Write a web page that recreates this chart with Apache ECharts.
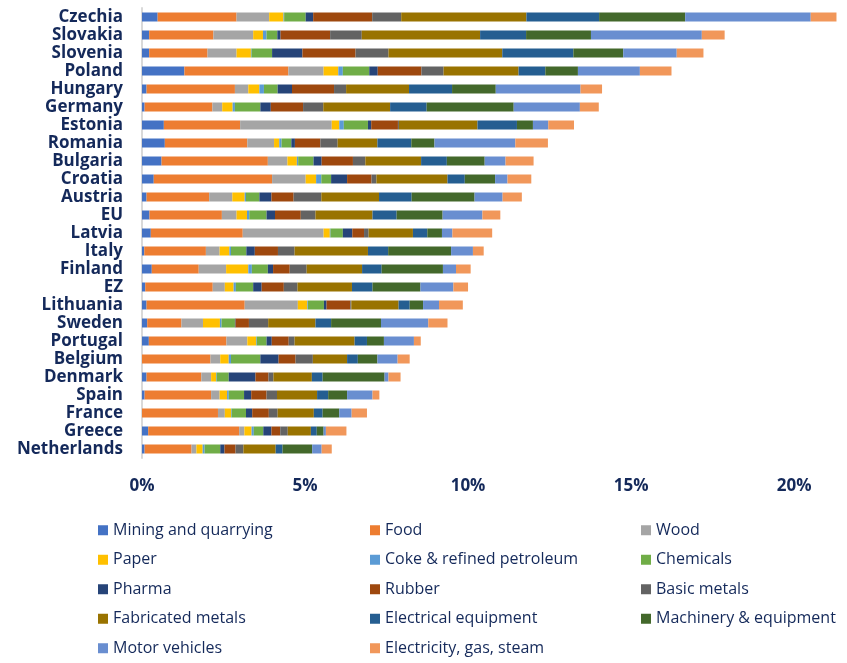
<!DOCTYPE html>
<html><head><meta charset="utf-8">
<script src="https://cdn.jsdelivr.net/npm/echarts@6/dist/echarts.min.js"></script>
<style>html,body{margin:0;padding:0;background:#fff}#c{width:847px;height:663px}</style>
</head><body><div id="c"></div>
<script>
const countries = ["Czechia","Slovakia","Slovenia","Poland","Hungary","Germany","Estonia","Romania","Bulgaria","Croatia","Austria","EU","Latvia","Italy","Finland","EZ","Lithuania","Sweden","Portugal","Belgium","Denmark","Spain","France","Greece","Netherlands"];
const xTicks = [0,5,10,15,20];
const mining = [0.48,0.22,0.22,1.30,0.14,0.08,0.67,0.70,0.60,0.36,0.14,0.23,0.27,0.07,0.30,0.10,0.14,0.16,0.21,0,0.14,0.08,0,0.19,0.08];
const food = [2.42,1.97,1.79,3.19,2.71,2.08,2.34,2.53,3.26,3.63,1.92,2.22,2.82,1.89,1.44,2.07,3.01,1.05,2.38,2.10,1.68,2.04,2.33,2.79,1.44];
const wood = [1.00,1.22,0.89,1.08,0.41,0.30,2.81,0.82,0.60,1.03,0.71,0.45,2.48,0.42,0.84,0.37,1.63,0.66,0.64,0.30,0.30,0.26,0.21,0.16,0.15];
const paper = [0.44,0.30,0.44,0.45,0.34,0.32,0.23,0.16,0.29,0.32,0.38,0.32,0.19,0.30,0.68,0.27,0.29,0.52,0.27,0.26,0.15,0.23,0.19,0.22,0.19];
const coke = [0.02,0.11,0.02,0.14,0.14,0.07,0.14,0.07,0.04,0.16,0.04,0.07,0.02,0.05,0.11,0.07,0.02,0.05,0.02,0.07,0.02,0.05,0.02,0.07,0.06];
const chemicals = [0.66,0.33,0.63,0.81,0.42,0.78,0.74,0.30,0.47,0.30,0.41,0.53,0.38,0.47,0.49,0.53,0.49,0.41,0.30,0.90,0.37,0.47,0.44,0.29,0.48];
const pharma = [0.23,0.10,0.93,0.26,0.44,0.32,0.10,0.11,0.25,0.49,0.37,0.26,0.29,0.26,0.16,0.26,0.08,0.02,0.16,0.56,0.82,0.22,0.19,0.25,0.13];
const rubber = [1.81,1.52,1.63,1.34,1.29,0.99,0.82,0.78,0.96,0.75,0.68,0.79,0.36,0.71,0.51,0.68,0.73,0.41,0.52,0.52,0.40,0.47,0.51,0.27,0.34];
const basicMetals = [0.89,0.97,1.01,0.68,0.37,0.62,0.03,0.53,0.38,0.15,0.85,0.45,0.14,0.51,0.52,0.42,0.03,0.59,0.18,0.53,0.15,0.32,0.27,0.23,0.24];
const fabricated = [3.84,3.63,3.49,2.30,1.93,2.05,2.41,1.22,1.71,2.18,1.77,1.75,1.36,2.25,1.70,1.67,1.45,1.45,1.84,1.05,1.18,1.23,1.11,0.71,0.99];
const electrical = [2.23,1.41,2.18,0.82,1.32,1.12,1.21,1.04,0.79,0.53,1.00,0.74,0.44,0.62,0.60,0.63,0.34,0.48,0.38,0.33,0.33,0.34,0.27,0.18,0.21];
const machinery = [2.64,1.99,1.53,1.00,1.34,2.67,0.49,0.71,1.16,0.93,1.93,1.41,0.45,1.93,1.88,1.47,0.41,1.53,0.52,0.60,1.90,0.58,0.51,0.21,0.91];
const motor = [3.85,3.40,1.64,1.90,2.60,2.03,0.47,2.48,0.64,0.38,0.86,1.22,0.32,0.67,0.40,1.01,0.49,1.45,0.92,0.62,0.12,0.78,0.38,0.07,0.29];
const electricity = [0.79,0.70,0.82,0.97,0.66,0.58,0.79,1.00,0.86,0.73,0.59,0.55,1.22,0.33,0.45,0.45,0.73,0.59,0.21,0.37,0.37,0.21,0.47,0.63,0.31];

const seriesNames = ["Mining and quarrying","Food","Wood","Paper","Coke & refined petroleum","Chemicals","Pharma","Rubber","Basic metals","Fabricated metals","Electrical equipment","Machinery & equipment","Motor vehicles","Electricity, gas, steam"];
const seriesData = [mining,food,wood,paper,coke,chemicals,pharma,rubber,basicMetals,fabricated,electrical,machinery,motor,electricity];
const colors = ["#4472C4","#ED7D31","#A5A5A5","#FFC000","#5B9BD5","#70AD47","#264478","#9E480E","#636363","#997300","#255E91","#43682B","#698ED0","#F1975A"];

const navy = "#14295A";
const font = "Open Sans";
const chart = echarts.init(document.getElementById('c'), null, {renderer:'canvas'});
const legendBase = {orient:'vertical', top:522, padding:0, height:150, itemWidth:10, itemHeight:10, itemGap:13, icon:'rect',
  textStyle:{color:navy, fontSize:16, fontFamily:font, lineHeight:16.5}};
chart.setOption({
  animation:false,
  color: colors,
  grid:{left:142, top:8, width:701, height:450, containLabel:false},
  xAxis:{type:'value', min:0, max:21.5, interval:5,
    axisLine:{show:false}, axisTick:{show:false}, splitLine:{show:false},
    axisLabel:{margin:20, color:navy, fontSize:17, fontWeight:'bold', fontFamily:font,
      showMaxLabel:false,
      formatter: v => xTicks.includes(v) ? v + '%' : ''}},
  yAxis:{type:'category', data:countries, inverse:true,
    axisLine:{show:true, lineStyle:{color:'#d9d9d9', width:2}}, axisTick:{show:false},
    axisLabel:{interval:0, margin:19, color:navy, fontSize:17, fontWeight:'bold', fontFamily:font}},
  legend:[
    Object.assign({}, legendBase, {left:98, data:[seriesNames[0],seriesNames[3],seriesNames[6],seriesNames[9],seriesNames[12]]}),
    Object.assign({}, legendBase, {left:370, data:[seriesNames[1],seriesNames[4],seriesNames[7],seriesNames[10],seriesNames[13]]}),
    Object.assign({}, legendBase, {left:641, data:[seriesNames[2],seriesNames[5],seriesNames[8],seriesNames[11]]})
  ],
  series: seriesNames.map((n,i)=>({name:n, type:'bar', stack:'total', data:seriesData[i], barWidth:9,
    itemStyle:{color:colors[i]}}))
});
</script></body></html>
